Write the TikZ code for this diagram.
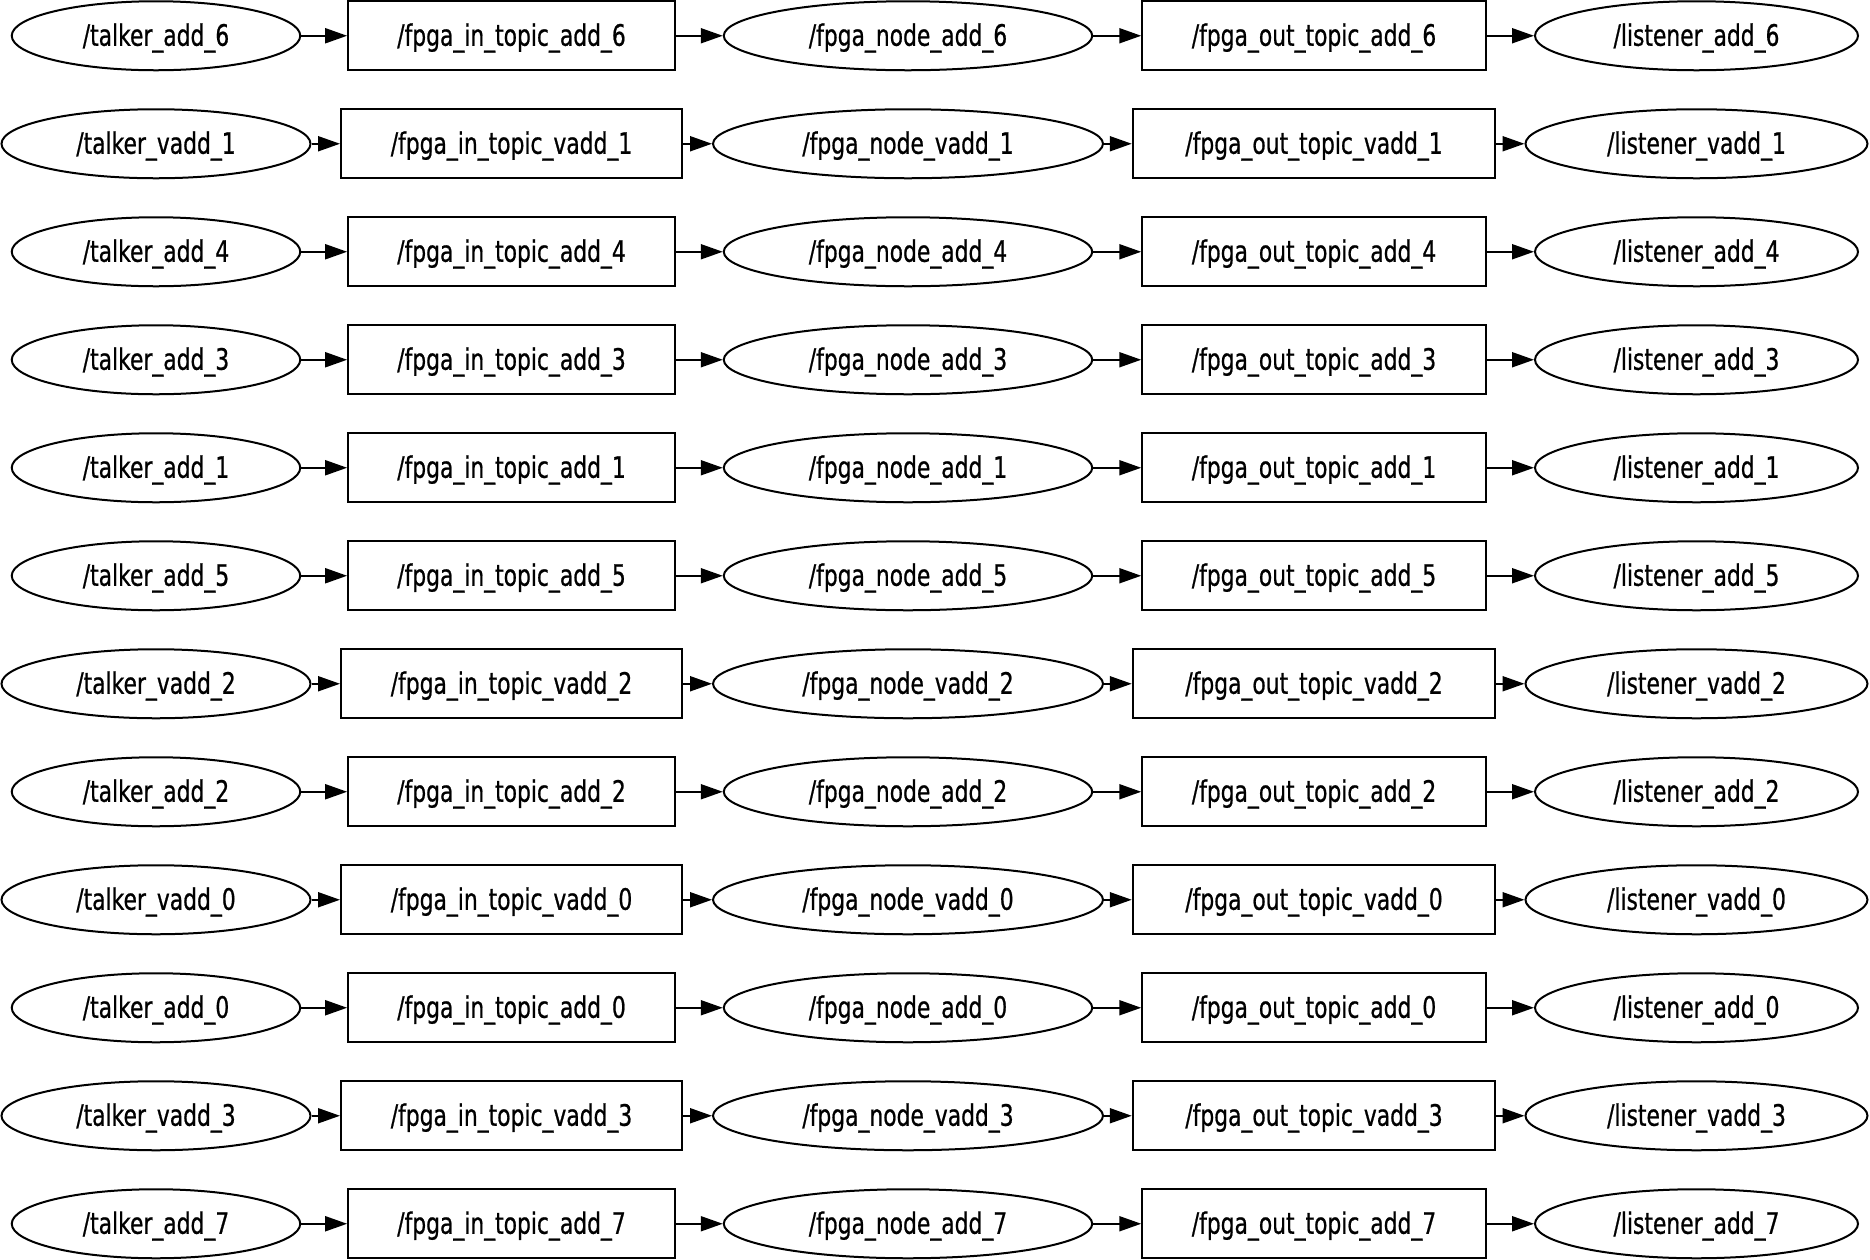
\documentclass[tikz,border=0pt]{standalone}
\usepackage{fontspec}
\newfontfamily\rosfont[FakeStretch=0.74,FakeBold=0.7]{DejaVu Sans}
\usetikzlibrary{shapes.geometric,arrows.meta}

\begin{document}
\begin{tikzpicture}[x=1pt,y=1pt,
  rosnode/.style={shape=ellipse,draw=black,line width=0.8pt,inner sep=0pt,minimum height=27.6pt,minimum width=#1,font=\rosfont\fontsize{11.8pt}{14pt}\selectfont,text height=9.9pt,text depth=1.9pt},
  rostopic/.style={shape=rectangle,draw=black,line width=0.8pt,inner sep=0pt,minimum height=27.6pt,minimum width=#1,font=\rosfont\fontsize{11.8pt}{14pt}\selectfont,text height=9.9pt,text depth=1.9pt},
  flow/.style={-{Triangle[length=8.8pt,width=6pt]},draw=black,line width=0.8pt}]
\useasboundingbox (0,0) rectangle (748,-504);
\node[rosnode=115.4pt] (0) at (62.4,-14.3) {/talker\_add\_6};
\node[rostopic=130.7pt] (1) at (204.6,-14.3) {/fpga\_in\_topic\_add\_6};
\node[rosnode=147.4pt] (2) at (363.2,-14.3) {/fpga\_node\_add\_6};
\node[rostopic=137.4pt] (3) at (525.6,-14.3) {/fpga\_out\_topic\_add\_6};
\node[rosnode=129.2pt] (4) at (678.6,-14.3) {/listener\_add\_6};
\node[rosnode=123.6pt] (5) at (62.4,-57.5) {/talker\_vadd\_1};
\node[rostopic=136.4pt] (6) at (204.6,-57.5) {/fpga\_in\_topic\_vadd\_1};
\node[rosnode=156pt] (7) at (363.2,-57.5) {/fpga\_node\_vadd\_1};
\node[rostopic=145pt] (8) at (525.6,-57.5) {/fpga\_out\_topic\_vadd\_1};
\node[rosnode=136.8pt] (9) at (678.6,-57.5) {/listener\_vadd\_1};
\node[rosnode=115.4pt] (10) at (62.4,-100.7) {/talker\_add\_4};
\node[rostopic=130.7pt] (11) at (204.6,-100.7) {/fpga\_in\_topic\_add\_4};
\node[rosnode=147.4pt] (12) at (363.2,-100.7) {/fpga\_node\_add\_4};
\node[rostopic=137.4pt] (13) at (525.6,-100.7) {/fpga\_out\_topic\_add\_4};
\node[rosnode=129.2pt] (14) at (678.6,-100.7) {/listener\_add\_4};
\node[rosnode=115.4pt] (15) at (62.4,-143.9) {/talker\_add\_3};
\node[rostopic=130.7pt] (16) at (204.6,-143.9) {/fpga\_in\_topic\_add\_3};
\node[rosnode=147.4pt] (17) at (363.2,-143.9) {/fpga\_node\_add\_3};
\node[rostopic=137.4pt] (18) at (525.6,-143.9) {/fpga\_out\_topic\_add\_3};
\node[rosnode=129.2pt] (19) at (678.6,-143.9) {/listener\_add\_3};
\node[rosnode=115.4pt] (20) at (62.4,-187.1) {/talker\_add\_1};
\node[rostopic=130.7pt] (21) at (204.6,-187.1) {/fpga\_in\_topic\_add\_1};
\node[rosnode=147.4pt] (22) at (363.2,-187.1) {/fpga\_node\_add\_1};
\node[rostopic=137.4pt] (23) at (525.6,-187.1) {/fpga\_out\_topic\_add\_1};
\node[rosnode=129.2pt] (24) at (678.6,-187.1) {/listener\_add\_1};
\node[rosnode=115.4pt] (25) at (62.4,-230.3) {/talker\_add\_5};
\node[rostopic=130.7pt] (26) at (204.6,-230.3) {/fpga\_in\_topic\_add\_5};
\node[rosnode=147.4pt] (27) at (363.2,-230.3) {/fpga\_node\_add\_5};
\node[rostopic=137.4pt] (28) at (525.6,-230.3) {/fpga\_out\_topic\_add\_5};
\node[rosnode=129.2pt] (29) at (678.6,-230.3) {/listener\_add\_5};
\node[rosnode=123.6pt] (30) at (62.4,-273.5) {/talker\_vadd\_2};
\node[rostopic=136.4pt] (31) at (204.6,-273.5) {/fpga\_in\_topic\_vadd\_2};
\node[rosnode=156pt] (32) at (363.2,-273.5) {/fpga\_node\_vadd\_2};
\node[rostopic=145pt] (33) at (525.6,-273.5) {/fpga\_out\_topic\_vadd\_2};
\node[rosnode=136.8pt] (34) at (678.6,-273.5) {/listener\_vadd\_2};
\node[rosnode=115.4pt] (35) at (62.4,-316.7) {/talker\_add\_2};
\node[rostopic=130.7pt] (36) at (204.6,-316.7) {/fpga\_in\_topic\_add\_2};
\node[rosnode=147.4pt] (37) at (363.2,-316.7) {/fpga\_node\_add\_2};
\node[rostopic=137.4pt] (38) at (525.6,-316.7) {/fpga\_out\_topic\_add\_2};
\node[rosnode=129.2pt] (39) at (678.6,-316.7) {/listener\_add\_2};
\node[rosnode=123.6pt] (40) at (62.4,-359.9) {/talker\_vadd\_0};
\node[rostopic=136.4pt] (41) at (204.6,-359.9) {/fpga\_in\_topic\_vadd\_0};
\node[rosnode=156pt] (42) at (363.2,-359.9) {/fpga\_node\_vadd\_0};
\node[rostopic=145pt] (43) at (525.6,-359.9) {/fpga\_out\_topic\_vadd\_0};
\node[rosnode=136.8pt] (44) at (678.6,-359.9) {/listener\_vadd\_0};
\node[rosnode=115.4pt] (45) at (62.4,-403.1) {/talker\_add\_0};
\node[rostopic=130.7pt] (46) at (204.6,-403.1) {/fpga\_in\_topic\_add\_0};
\node[rosnode=147.4pt] (47) at (363.2,-403.1) {/fpga\_node\_add\_0};
\node[rostopic=137.4pt] (48) at (525.6,-403.1) {/fpga\_out\_topic\_add\_0};
\node[rosnode=129.2pt] (49) at (678.6,-403.1) {/listener\_add\_0};
\node[rosnode=123.6pt] (50) at (62.4,-446.3) {/talker\_vadd\_3};
\node[rostopic=136.4pt] (51) at (204.6,-446.3) {/fpga\_in\_topic\_vadd\_3};
\node[rosnode=156pt] (52) at (363.2,-446.3) {/fpga\_node\_vadd\_3};
\node[rostopic=145pt] (53) at (525.6,-446.3) {/fpga\_out\_topic\_vadd\_3};
\node[rosnode=136.8pt] (54) at (678.6,-446.3) {/listener\_vadd\_3};
\node[rosnode=115.4pt] (55) at (62.4,-489.5) {/talker\_add\_7};
\node[rostopic=130.7pt] (56) at (204.6,-489.5) {/fpga\_in\_topic\_add\_7};
\node[rosnode=147.4pt] (57) at (363.2,-489.5) {/fpga\_node\_add\_7};
\node[rostopic=137.4pt] (58) at (525.6,-489.5) {/fpga\_out\_topic\_add\_7};
\node[rosnode=129.2pt] (59) at (678.6,-489.5) {/listener\_add\_7};

\path [flow] (0) edge (1);
\path [flow] (1) edge (2);
\path [flow] (2) edge (3);
\path [flow] (3) edge (4);
\path [flow] (5) edge (6);
\path [flow] (6) edge (7);
\path [flow] (7) edge (8);
\path [flow] (8) edge (9);
\path [flow] (10) edge (11);
\path [flow] (11) edge (12);
\path [flow] (12) edge (13);
\path [flow] (13) edge (14);
\path [flow] (15) edge (16);
\path [flow] (16) edge (17);
\path [flow] (17) edge (18);
\path [flow] (18) edge (19);
\path [flow] (20) edge (21);
\path [flow] (21) edge (22);
\path [flow] (22) edge (23);
\path [flow] (23) edge (24);
\path [flow] (25) edge (26);
\path [flow] (26) edge (27);
\path [flow] (27) edge (28);
\path [flow] (28) edge (29);
\path [flow] (30) edge (31);
\path [flow] (31) edge (32);
\path [flow] (32) edge (33);
\path [flow] (33) edge (34);
\path [flow] (35) edge (36);
\path [flow] (36) edge (37);
\path [flow] (37) edge (38);
\path [flow] (38) edge (39);
\path [flow] (40) edge (41);
\path [flow] (41) edge (42);
\path [flow] (42) edge (43);
\path [flow] (43) edge (44);
\path [flow] (45) edge (46);
\path [flow] (46) edge (47);
\path [flow] (47) edge (48);
\path [flow] (48) edge (49);
\path [flow] (50) edge (51);
\path [flow] (51) edge (52);
\path [flow] (52) edge (53);
\path [flow] (53) edge (54);
\path [flow] (55) edge (56);
\path [flow] (56) edge (57);
\path [flow] (57) edge (58);
\path [flow] (58) edge (59);
\end{tikzpicture}
\end{document}
